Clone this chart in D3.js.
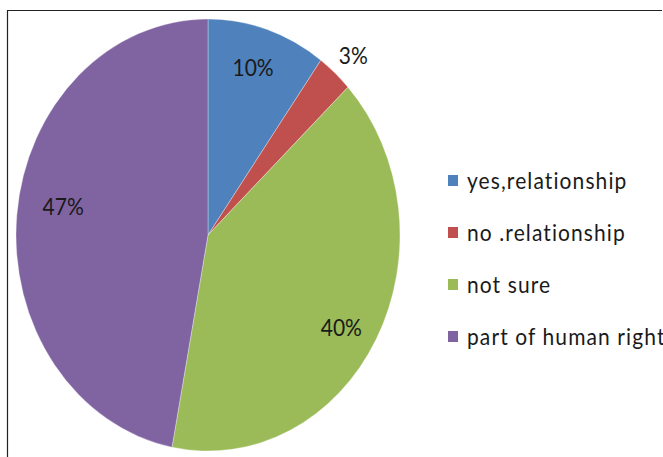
<!DOCTYPE html>
<html>
<head>
<meta charset="utf-8">
<script src="https://cdn.jsdelivr.net/npm/d3@7"></script>
<style>
  html, body { margin: 0; padding: 0; background: #fff; overflow: hidden; }
  svg { display: block; }
  text { font-family: Lato, "Noto Sans", sans-serif; fill: #1a1a1a; }
</style>
</head>
<body>
<script>
// Survey answers and their shares (percent)
const categories = ["yes,relationship", "no .relationship", "not sure", "part of human right"];
const shares = [10, 3, 40, 47];
const colors = ["#4F81BD", "#C0504D", "#9BBB59", "#8064A2"];

const W = 663, H = 457;
const cx = 208, cy = 235;      // pie centre
const r = 192;                  // horizontal radius
const sy = 1.125;               // vertical stretch of the chart

// small hand adjustments of the percentage labels (px, screen space)
const labelNudge = [[-3, -2], [3, 1], [-3, 8], [10, -13]];

const svg = d3.select("body").append("svg")
  .attr("width", W).attr("height", H);

// chart frame (open on the right and bottom)
svg.append("path")
  .attr("d", `M7.5,${H} V10.5 H${W - 1}`)
  .attr("fill", "none").attr("stroke", "#222").attr("stroke-width", 1.2);

const data = categories.map((c, i) => ({ name: c, value: shares[i], color: colors[i], i }));
const pie = d3.pie().sort(null).value(d => d.value);
const arcs = pie(data);

const arc = d3.arc().innerRadius(0).outerRadius(r);
const labelArcIn = d3.arc().innerRadius(r * 0.81).outerRadius(r * 0.81);
const labelArcOut = d3.arc().innerRadius(r * 1.12).outerRadius(r * 1.12);

const g = svg.append("g").attr("transform", `translate(${cx},${cy}) scale(1,${sy})`);
g.selectAll("path.slice").data(arcs).join("path")
  .attr("class", "slice")
  .attr("d", arc)
  .attr("fill", d => d.data.color)
  .attr("stroke", "#fff").attr("stroke-opacity", 0.5).attr("stroke-width", 0.6);

// percentage labels; small slices get their label just outside the rim
svg.selectAll("text.pct").data(arcs).join("text")
  .attr("class", "pct")
  .attr("text-anchor", "middle")
  .attr("dominant-baseline", "central")
  .attr("font-size", 21)
  .attr("transform", d => {
    const [x, y] = (d.data.value < 5 ? labelArcOut : labelArcIn).centroid(d);
    const [nx, ny] = labelNudge[d.data.i];
    return `translate(${cx + x + nx},${cy + y * sy + ny}) scale(1,${sy})`;
  })
  .text(d => d.data.value + "%");

// legend
const legendX = 448, legendY0 = 180, legendStep = 52;
const lg = svg.append("g");
const rows = lg.selectAll("g").data(data).join("g")
  .attr("transform", (d, i) => `translate(${legendX},${legendY0 + i * legendStep})`);
rows.append("rect")
  .attr("x", 0).attr("y", -5).attr("width", 10).attr("height", 11)
  .attr("fill", d => d.color);
rows.append("text")
  .attr("x", 19).attr("y", 0)
  .attr("dominant-baseline", "central")
  .attr("font-size", 21)
  .attr("letter-spacing", 1.1)
  .attr("transform", `scale(1,${sy})`)
  .text(d => d.name);
</script>
</body>
</html>
